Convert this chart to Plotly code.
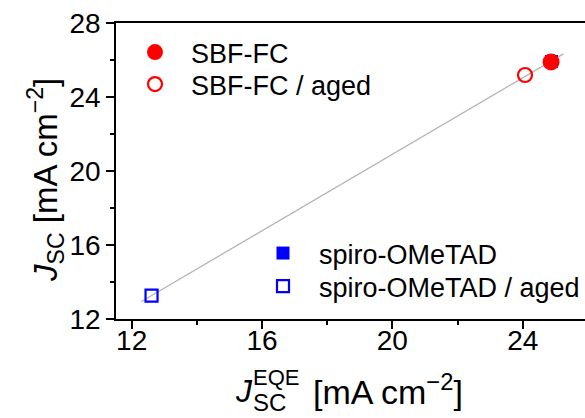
import numpy as np
import plotly.graph_objects as go

# ---- data ----
sbf_x = [24.87]
sbf_y = [25.89]
sbf_aged_x = [24.07]
sbf_aged_y = [25.19]
spiro_x = [24.88]
spiro_y = [25.92]
spiro_aged_x = [12.61]
spiro_aged_y = [13.26]
fit_x_range = [12.3, 25.25]

x_ticks = [12, 16, 20, 24]
y_ticks = [12, 16, 20, 24, 28]

# linear fit through all points
all_x = sbf_x + sbf_aged_x + spiro_x + spiro_aged_x
all_y = sbf_y + sbf_aged_y + spiro_y + spiro_aged_y
slope, intercept = np.polyfit(all_x, all_y, 1)
fit_x = np.array(fit_x_range)
fit_y = slope * fit_x + intercept

FONT = "Liberation Sans, Arial, sans-serif"
RED = "#ff0000"
BLUE = "#0000ff"

fig = go.Figure()
fig.add_trace(go.Scatter(x=fit_x, y=fit_y, mode="lines",
                         line=dict(color="#b4b4b4", width=1.3),
                         showlegend=False, hoverinfo="skip"))
fig.add_trace(go.Scatter(x=spiro_x, y=spiro_y, mode="markers", name="spiro-OMeTAD",
                         marker=dict(symbol="square", size=13, color=BLUE,
                                     line=dict(width=0)), legend="legend3"))
fig.add_trace(go.Scatter(x=spiro_aged_x, y=spiro_aged_y, mode="markers",
                         name="spiro-OMeTAD / aged",
                         marker=dict(symbol="square-open", size=12, color=BLUE,
                                     line=dict(width=2.2, color=BLUE)), legend="legend4"))
fig.add_trace(go.Scatter(x=sbf_x, y=sbf_y, mode="markers", name="SBF-FC",
                         marker=dict(symbol="circle", size=17, color=RED,
                                     line=dict(width=0)), legend="legend"))
fig.add_trace(go.Scatter(x=sbf_aged_x, y=sbf_aged_y, mode="markers", name="SBF-FC / aged",
                         marker=dict(symbol="circle-open", size=14, color=RED,
                                     line=dict(width=2.2, color=RED)), legend="legend2"))

L, T, B = 116, 23, 99
W, H = 585, 418
pw = W - L
ph = H - T - B


def px(xp):
    return (xp - L) / pw


def py(yp):
    return (H - B - yp) / ph


axis_common = dict(
    showgrid=False, zeroline=False, showline=True, linecolor="black", linewidth=1.5,
    ticks="outside", ticklen=8, tickwidth=1.5, tickcolor="black",
    tickfont=dict(family=FONT, size=28, color="black"),
)


def leg(xp, yp):
    return dict(x=px(xp), y=py(yp), xanchor="left", yanchor="top", itemwidth=62,
                bgcolor="rgba(0,0,0,0)", font=dict(family=FONT, size=27, color="black"))


fig.update_layout(
    width=W, height=H,
    margin=dict(l=L, r=0, t=T, b=B),
    paper_bgcolor="white", plot_bgcolor="white",
    font=dict(family=FONT, color="black"),
    xaxis=dict(range=[11.52, 25.91], tickvals=x_ticks, mirror=True,
               ticklabelstandoff=-12,
               minor=dict(tickvals=[14, 18, 22], ticks="outside", ticklen=4,
                          tickwidth=1.5, tickcolor="black"),
               **axis_common),
    yaxis=dict(range=[12, 28], tickvals=y_ticks,
               minor=dict(tickvals=[14, 18, 22, 26], ticks="outside", ticklen=4,
                          tickwidth=1.5, tickcolor="black"),
               **axis_common),
    legend=leg(119, 28),
    legend2=leg(119, 60),
    legend3=leg(247, 229),
    legend4=leg(247, 262),
    showlegend=True,
)

ann = []
# x axis title pieces
ann.append(dict(text="<i>J</i>", x=px(233), y=py(391), xanchor="left", yanchor="middle",
                font=dict(family=FONT, size=32)))
ann.append(dict(text="EQE", x=px(251), y=py(377.5), xanchor="left", yanchor="middle",
                font=dict(family=FONT, size=22)))
ann.append(dict(text="SC", x=px(251), y=py(402), xanchor="left", yanchor="middle",
                font=dict(family=FONT, size=24)))
ann.append(dict(text="[mA cm<sup>−2</sup>]", x=px(311), y=py(389), xanchor="left",
                yanchor="middle", font=dict(family=FONT, size=34)))
# y axis title
ann.append(dict(text="<i>J</i><sub>SC</sub> [mA cm<sup>−2</sup>]", x=px(45), y=py(180),
                xanchor="center", yanchor="middle", textangle=-90,
                font=dict(family=FONT, size=33)))
for a in ann:
    a.update(xref="paper", yref="paper", showarrow=False)
fig.update_layout(annotations=ann)

fig.write_html("out.html")
